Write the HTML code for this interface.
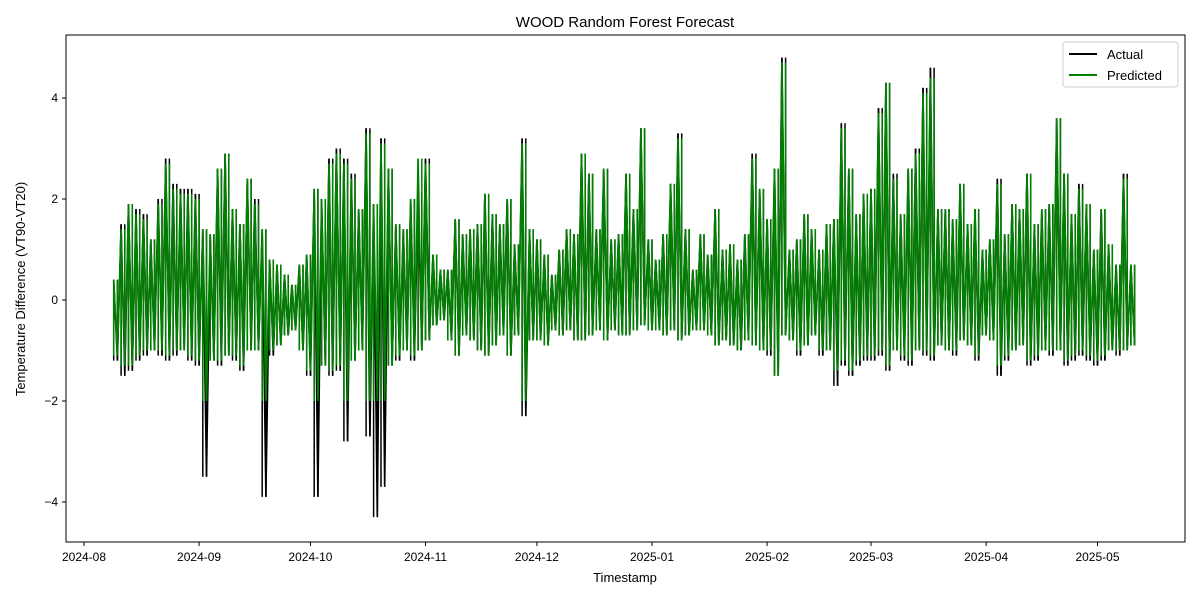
<!DOCTYPE html>
<html><head><meta charset="utf-8"><style>
html,body{margin:0;padding:0;background:#fff;}
svg{display:block;font-family:"Liberation Sans","DejaVu Sans",sans-serif;}
</style></head><body>
<svg id="chart" width="1200" height="600">
<rect width="1200" height="600" fill="#fff"/>
<text x="625" y="27" font-size="15" text-anchor="middle">WOOD Random Forest Forecast</text>
<g id="series"></g>
<rect x="66" y="35" width="1119" height="507" fill="none" stroke="#000" stroke-width="1"/>
<g id="axes" font-size="12"></g>
<text x="625" y="582" font-size="13" text-anchor="middle">Timestamp</text>
<text transform="translate(25,289) rotate(-90)" font-size="13" text-anchor="middle">Temperature Difference (VT90-VT20)</text>
<g>
<rect x="1063" y="42" width="115" height="45" rx="3" fill="#fff" fill-opacity="0.8" stroke="#ccc"/>
<g><line x1="1069" y1="54" x2="1097" y2="54" stroke="#000" stroke-width="2"/><text x="1107" y="59" font-size="13">Actual</text></g>
<g><line x1="1069" y1="75" x2="1097" y2="75" stroke="green" stroke-width="2"/><text x="1107" y="80" font-size="13">Predicted</text></g>
</g>
</svg>
<script>
const startDate = "2024-08-09";
const stepDays = 2;
const actualHi = [0.4,1.5,1.9,1.8,1.7,1.2,2.0,2.8,2.3,2.2,2.2,
2.1,1.4,1.3,2.6,2.9,1.8,1.5,2.4,2.0,1.4,0.8,0.7,0.5,0.3,0.7,
0.9,2.2,2.0,2.8,3.0,2.8,2.5,1.8,3.4,1.9,3.2,2.6,1.5,1.4,2.0,2.1,
2.8,0.9,0.6,0.6,1.6,1.3,1.4,1.5,2.1,1.7,1.5,2.0,1.1,3.2,1.4,
1.2,0.9,0.5,1.0,1.4,1.3,2.9,2.5,1.4,2.6,1.2,1.3,2.5,1.8,3.4,1.2,
0.8,1.3,2.3,3.3,1.4,0.6,1.3,0.9,1.8,1.0,1.1,0.8,1.3,2.9,2.2,
1.6,2.6,4.8,1.0,1.2,1.7,1.4,1.0,1.5,1.6,3.5,2.6,1.7,2.1,
2.2,3.8,4.3,2.5,1.7,2.6,3.0,4.2,4.6,1.8,1.8,1.6,2.3,1.5,1.8,1.0,
1.2,2.4,1.3,1.9,1.8,2.5,1.5,1.8,1.9,3.6,2.5,1.7,2.3,1.9,1.0,
1.8,1.1,0.7,2.5,0.7];
const actualLo = [-1.2,-1.5,-1.4,-1.2,-1.1,-1.0,-1.1,-1.2,-1.1,-1.0,-1.2,
-1.3,-3.5,-1.2,-1.3,-1.1,-1.2,-1.4,-1.0,-1.0,-3.9,-1.1,-0.9,-0.7,-0.6,-1.0,
-1.5,-3.9,-1.3,-1.5,-1.4,-2.8,-1.2,-1.0,-2.7,-4.3,-3.7,-1.3,-1.2,-1.0,-1.2,-1.0,
-0.8,-0.5,-0.4,-0.8,-1.1,-0.7,-0.8,-1.0,-1.1,-0.9,-0.7,-1.1,-0.7,-2.3,-0.8,
-0.8,-0.9,-0.6,-0.7,-0.6,-0.8,-0.8,-0.7,-0.6,-0.8,-0.6,-0.7,-0.7,-0.6,-0.5,-0.6,
-0.6,-0.7,-0.6,-0.8,-0.7,-0.6,-0.6,-0.7,-0.9,-0.8,-0.9,-1.0,-0.8,-0.9,-1.0,
-1.1,-1.5,-0.7,-0.8,-1.1,-0.9,-0.7,-1.1,-1.0,-1.7,-1.3,-1.5,-1.3,-1.2,
-1.2,-1.1,-1.4,-1.0,-1.2,-1.3,-1.0,-1.1,-1.2,-0.9,-1.0,-1.1,-0.8,-0.9,-1.2,-0.7,
-0.8,-1.5,-1.2,-1.0,-0.9,-1.3,-1.2,-1.0,-1.1,-1.0,-1.3,-1.2,-1.1,-1.2,-1.3,
-1.2,-1.0,-1.1,-1.0,-0.9];
const predHi = [0.4,1.4,1.9,1.7,1.6,1.2,1.9,2.7,2.2,2.1,2.1,
2.0,1.4,1.3,2.6,2.9,1.8,1.5,2.4,1.9,1.4,0.8,0.7,0.5,0.3,0.7,
0.9,2.2,2.0,2.7,2.9,2.7,2.4,1.8,3.3,1.9,3.1,2.6,1.5,1.4,2.0,2.8,
2.7,0.9,0.6,0.6,1.6,1.3,1.4,1.5,2.1,1.7,1.5,2.0,1.1,3.1,1.4,
1.2,0.9,0.5,1.0,1.4,1.3,2.9,2.5,1.4,2.6,1.2,1.3,2.5,1.8,3.4,1.2,
0.8,1.3,2.3,3.2,1.4,0.6,1.3,0.9,1.8,1.0,1.1,0.8,1.3,2.8,2.2,
1.6,2.6,4.7,1.0,1.2,1.7,1.4,1.0,1.5,1.6,3.4,2.6,1.7,2.1,
2.2,3.7,4.3,2.4,1.7,2.6,2.9,4.1,4.4,1.8,1.8,1.6,2.3,1.5,1.8,1.0,
1.2,2.3,1.3,1.9,1.8,2.5,1.5,1.8,1.9,3.6,2.5,1.7,2.2,1.9,1.0,
1.8,1.1,0.7,2.4,0.7];
const predLo = [-1.1,-1.3,-1.3,-1.1,-1.0,-1.0,-1.0,-1.1,-1.0,-1.0,-1.1,
-1.2,-2.0,-1.2,-1.2,-1.1,-1.1,-1.3,-1.0,-1.0,-2.0,-1.0,-0.9,-0.7,-0.6,-1.0,
-1.4,-2.0,-1.3,-1.4,-1.3,-2.0,-1.2,-1.0,-2.0,-2.0,-2.0,-1.3,-1.1,-1.0,-1.1,-1.0,
-0.8,-0.5,-0.4,-0.8,-1.1,-0.7,-0.8,-1.0,-1.1,-0.9,-0.7,-1.1,-0.7,-2.0,-0.8,
-0.8,-0.9,-0.6,-0.7,-0.6,-0.8,-0.8,-0.7,-0.6,-0.8,-0.6,-0.7,-0.7,-0.6,-0.5,-0.6,
-0.6,-0.7,-0.6,-0.8,-0.7,-0.6,-0.6,-0.7,-0.9,-0.8,-0.9,-1.0,-0.8,-0.9,-1.0,
-1.0,-1.5,-0.7,-0.8,-1.0,-0.9,-0.7,-1.0,-1.0,-1.4,-1.2,-1.4,-1.2,-1.1,
-1.1,-1.0,-1.3,-1.0,-1.1,-1.2,-1.0,-1.0,-1.1,-0.9,-1.0,-1.0,-0.8,-0.9,-1.1,-0.7,
-0.8,-1.3,-1.1,-1.0,-0.9,-1.2,-1.1,-1.0,-1.0,-1.0,-1.2,-1.1,-1.0,-1.1,-1.2,
-1.1,-1.0,-1.0,-1.0,-0.9];
const yTicks = [-4,-2,0,2,4];
const xTickLabels = ["2024-08","2024-09","2024-10","2024-11","2024-12","2025-01","2025-02","2025-03","2025-04","2025-05"];

const NS="http://www.w3.org/2000/svg";
const t0 = Date.UTC(2024,7,1), t1 = Date.UTC(2025,0,1);
function xScale(ms){ return 84 + (ms - t0)/(t1 - t0)*568; }
function yScale(v){ return 300 - v*50.5; }
const DAY=86400000;
const s0 = Date.parse(startDate+"T00:00:00Z");

function buildPath(hi, lo){
  let d="";
  for(let i=0;i<hi.length;i++){
    const tA = s0 + i*stepDays*DAY, tB = tA + DAY*stepDays/2;
    d += (i===0?"M":"L")+xScale(tA).toFixed(1)+","+yScale(hi[i]).toFixed(1);
    d += "L"+xScale(tB).toFixed(1)+","+yScale(lo[i]).toFixed(1);
  }
  return d;
}
function buildRanges(hi, lo){
  let d="";
  for(let i=0;i<hi.length;i++){
    const tA = s0 + i*stepDays*DAY, tB = tA + DAY*stepDays/2;
    [tA,tB].forEach(t=>{
      const x=xScale(t).toFixed(1);
      d += "M"+x+","+yScale(hi[i]).toFixed(1)+"L"+x+","+yScale(lo[i]).toFixed(1);
    });
  }
  return d;
}
const sg=document.getElementById("series");
function addSeries(hi,lo,color,name){
  const r=document.createElementNS(NS,"path");
  r.setAttribute("d",buildRanges(hi,lo));
  r.setAttribute("fill","none");r.setAttribute("stroke",color);r.setAttribute("stroke-width","1.5");
  
  
  sg.appendChild(r);
  const p=document.createElementNS(NS,"path");
  p.setAttribute("d",buildPath(hi,lo));
  p.setAttribute("fill","none");p.setAttribute("stroke",color);p.setAttribute("stroke-width","1.6");
  
  
  sg.appendChild(p);
}
addSeries(actualHi,actualLo,"#000","actual");
addSeries(predHi,predLo,"green","predicted");

const ax=document.getElementById("axes");
yTicks.forEach(v=>{
  const y=yScale(v);
  const l=document.createElementNS(NS,"line");
  l.setAttribute("x1",62);l.setAttribute("x2",66);l.setAttribute("y1",y);l.setAttribute("y2",y);l.setAttribute("stroke","#000");
  
  
  ax.appendChild(l);
  const t=document.createElementNS(NS,"text");
  t.setAttribute("x",58);t.setAttribute("y",y+4);t.setAttribute("text-anchor","end");
  t.textContent=(v<0?"\u2212"+(-v):String(v));
  
  
  ax.appendChild(t);
});
xTickLabels.forEach(lab=>{
  const [yy,mm]=lab.split("-").map(Number);
  const x=xScale(Date.UTC(yy,mm-1,1));
  const l=document.createElementNS(NS,"line");
  l.setAttribute("x1",x);l.setAttribute("x2",x);l.setAttribute("y1",542);l.setAttribute("y2",546);l.setAttribute("stroke","#000");
  
  
  ax.appendChild(l);
  const t=document.createElementNS(NS,"text");
  t.setAttribute("x",x);t.setAttribute("y",561);t.setAttribute("text-anchor","middle");
  t.textContent=lab;
  
  
  ax.appendChild(t);
});
</script>
</body></html>
